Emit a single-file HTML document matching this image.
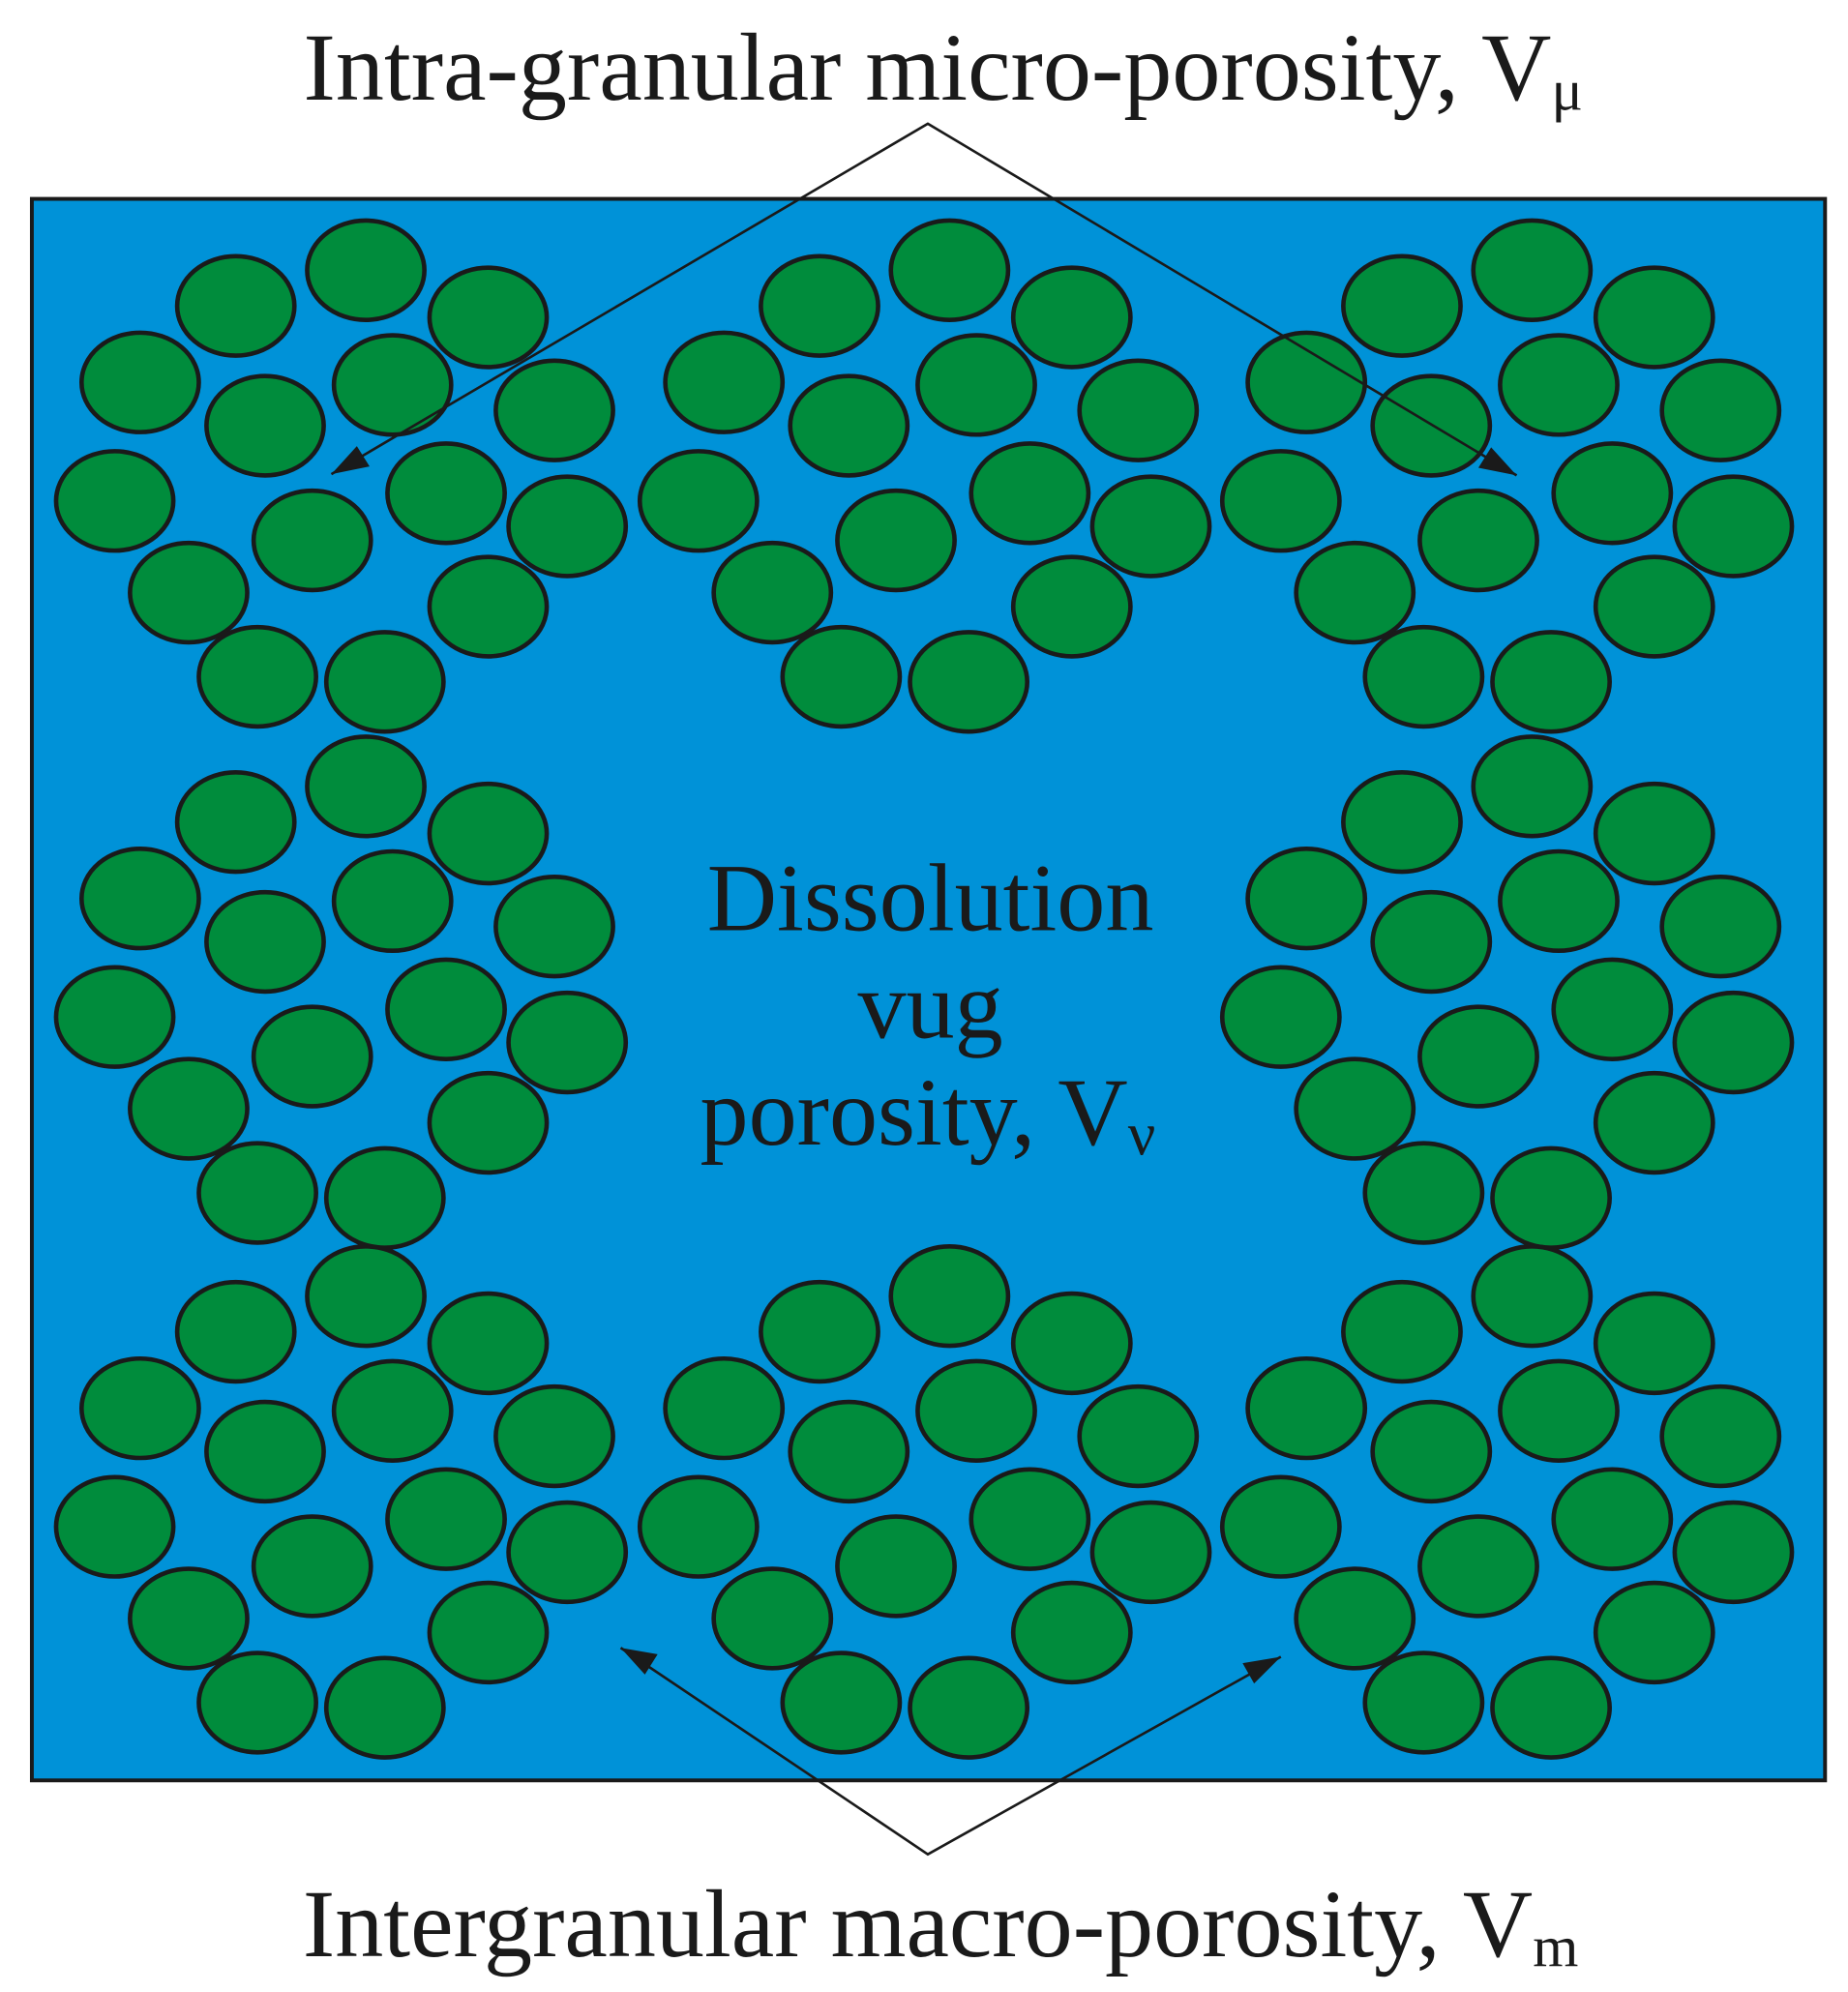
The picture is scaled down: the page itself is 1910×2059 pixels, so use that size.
<!DOCTYPE html>
<html><head><meta charset="utf-8"><style>html,body{margin:0;padding:0;background:#fff}svg{display:block}</style></head><body>
<svg width="1910" height="2059" viewBox="0 0 1450 1563" xmlns="http://www.w3.org/2000/svg">
<defs>
<g id="cl" fill="#008c3c" stroke="#1a1a1a" stroke-width="3.5">
<ellipse cx="185" cy="240" rx="46" ry="39"/><ellipse cx="287" cy="212" rx="46" ry="39"/><ellipse cx="383" cy="249" rx="46" ry="39"/>
<ellipse cx="110" cy="300" rx="46" ry="39"/><ellipse cx="308" cy="302" rx="46" ry="39"/><ellipse cx="208" cy="334" rx="46" ry="39"/>
<ellipse cx="435" cy="322" rx="46" ry="39"/><ellipse cx="90" cy="393" rx="46" ry="39"/><ellipse cx="350" cy="387" rx="46" ry="39"/>
<ellipse cx="245" cy="424" rx="46" ry="39"/><ellipse cx="445" cy="413" rx="46" ry="39"/><ellipse cx="148" cy="465" rx="46" ry="39"/>
<ellipse cx="383" cy="476" rx="46" ry="39"/><ellipse cx="202" cy="531" rx="46" ry="39"/><ellipse cx="302" cy="535" rx="46" ry="39"/>
</g>
</defs>
<rect x="25" y="156" width="1407" height="1241" fill="#0092d8" stroke="#1a1a1a" stroke-width="3"/>
<use href="#cl"/>
<use href="#cl" transform="translate(458,0)"/>
<use href="#cl" transform="translate(915,0)"/>
<use href="#cl" transform="translate(0,405)"/>
<use href="#cl" transform="translate(915,405)"/>
<use href="#cl" transform="translate(0,805)"/>
<use href="#cl" transform="translate(458,805)"/>
<use href="#cl" transform="translate(915,805)"/>
<g stroke="#1a1a1a" stroke-width="2" fill="none">
<path d="M260,372 L728,97 L1190,373"/>
<path d="M487,1293 L728,1455 L1005,1300"/>
</g>
<g fill="#1a1a1a">
<path d="M260,372 L280,350 L290,366 Z"/>
<path d="M1190,373 L1160,367 L1170,351 Z"/>
<path d="M487,1293 L516,1298 L506,1314 Z"/>
<path d="M1005,1300 L984,1321 L975,1305 Z"/>
</g>
<g font-family="Liberation Serif, serif" fill="#1a1a1a" text-anchor="middle">
<text x="740" y="78" font-size="76">Intra-granular micro-porosity, V<tspan font-size="46" dy="8">μ</tspan></text>
<text x="738" y="1535" font-size="76">Intergranular macro-porosity, V<tspan font-size="46" dy="8">m</tspan></text>
<text x="730" y="730" font-size="76">Dissolution</text>
<text x="730" y="814" font-size="76">vug</text>
<text x="728" y="898" font-size="76">porosity, V<tspan font-size="48" dy="8">ν</tspan></text>
</g>
</svg>
</body></html>
